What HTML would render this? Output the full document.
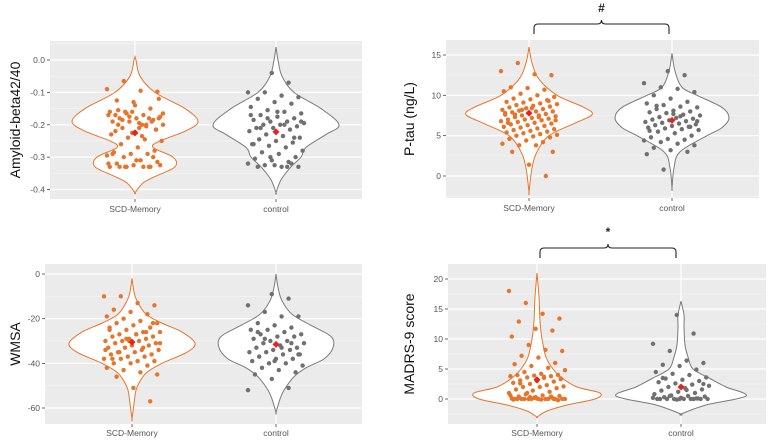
<!DOCTYPE html>
<html><head><meta charset="utf-8"><style>
html,body{margin:0;padding:0;background:#fff;}
svg{display:block;font-family:"Liberation Sans",sans-serif;}
</style></head><body>
<svg id="chart" width="772" height="442" viewBox="0 0 772 442"></svg>
<script>
// ---------- data ----------
const categories = ["SCD-Memory", "control"];
// Panel A: Amyloid-beta42/40
const amyTicks = [0.0, -0.1, -0.2, -0.3, -0.4];
const amyTickLabels = ["0.0", "-0.1", "-0.2", "-0.3", "-0.4"];
const amyScdViolinY = [0.01, 0.0, -0.05, -0.1, -0.15, -0.19, -0.22, -0.25, -0.27, -0.3, -0.33, -0.36, -0.38, -0.41];
const amyScdViolinW = [0, 1, 5, 20, 50, 63, 50, 25, 18, 38, 40, 20, 8, 0];
const amyCtrlViolinY = [0.04, 0.0, -0.05, -0.1, -0.15, -0.2, -0.23, -0.27, -0.3, -0.33, -0.37, -0.41];
const amyCtrlViolinW = [0, 2, 6, 18, 45, 63, 50, 30, 25, 15, 5, 0];
const amyScdPts = [-0.09,-0.065,-0.095,-0.098,-0.125,-0.13,-0.15,-0.16,-0.165,-0.17,-0.175,-0.18,-0.18,-0.185,-0.19,-0.19,-0.2,-0.2,-0.21,-0.21,-0.215,-0.22,-0.225,-0.18,-0.17,-0.16,-0.2,-0.12,-0.155,-0.14,-0.19,-0.23,-0.24,-0.245,-0.25,-0.26,-0.27,-0.28,-0.285,-0.29,-0.29,-0.295,-0.3,-0.31,-0.315,-0.32,-0.325,-0.33,-0.33,-0.33,-0.33,-0.325,-0.33,-0.31,-0.3,-0.29,-0.175,-0.205,-0.165,-0.185,-0.195,-0.215,-0.17,-0.16,-0.33,-0.32,-0.33,-0.235,-0.18,-0.2];
const amyCtrlPts = [-0.04,-0.07,-0.1,-0.1,-0.11,-0.115,-0.12,-0.13,-0.135,-0.145,-0.155,-0.16,-0.165,-0.17,-0.175,-0.18,-0.185,-0.19,-0.19,-0.195,-0.2,-0.2,-0.205,-0.21,-0.21,-0.215,-0.22,-0.23,-0.235,-0.24,-0.245,-0.25,-0.255,-0.26,-0.265,-0.27,-0.28,-0.285,-0.29,-0.3,-0.305,-0.31,-0.315,-0.32,-0.325,-0.33,-0.33,-0.33,-0.325,-0.32,-0.17,-0.18,-0.2,-0.19,-0.21,-0.16,-0.24,-0.26,-0.3,-0.33];
const amyMeans = [-0.225, -0.222];
// Panel B: P-tau
const ptTicks = [0, 5, 10, 15];
const ptTickLabels = ["0", "5", "10", "15"];
const ptScdViolinY = [16, 14, 12, 10, 8.5, 7.6, 6.5, 5, 3, 1, -2];
const ptScdViolinW = [0, 3, 10, 28, 55, 63, 45, 20, 8, 3, 0];
const ptCtrlViolinY = [15.2, 13, 11, 10, 8.5, 7.2, 6, 5, 3, 1, -1.5];
const ptCtrlViolinW = [0, 3, 10, 25, 50, 57, 50, 35, 8, 2, 0];
const ptScdPts = [13,14,12.6,12.5,11,10.9,10.7,10.5,10.2,10,9.8,9.6,9.5,9.4,9.2,9.1,9,8.9,8.8,8.7,8.6,8.5,8.4,8.3,8.2,8.1,8,8,7.9,7.8,7.7,7.6,7.5,7.5,7.4,7.3,7.2,7.1,7,7,6.9,6.8,6.7,6.6,6.5,6.4,6.3,6.2,6.1,6,5.9,5.8,5.7,5.6,5.5,5.4,5.3,5.2,5.1,5,4.9,4.8,4.6,4.4,4.2,4,3.8,3.8,3,3,1.4,0,7.8,8.2,7.3,6.9,7.6,8.4,9.3,6.6];
const ptCtrlPts = [13,12.5,11.5,11,10.8,10.4,10,9.6,9.2,9,8.8,8.6,8.5,8.3,8.1,8,7.9,7.8,7.6,7.5,7.3,7.2,7.1,7,6.9,6.8,6.7,6.6,6.5,6.4,6.3,6.2,6.1,6,5.9,5.8,5.7,5.5,5.3,5,4.8,4.6,4.5,4.4,4.2,4,3.8,3.5,3.2,3,2.7,0.8,7.4,6.8,8.7,7.7,6.1,5.6];
const ptMeans = [7.8, 6.9];
// Panel C: WMSA
const wmTicks = [0, -20, -40, -60];
const wmTickLabels = ["0", "-20", "-40", "-60"];
const wmScdViolinY = [-2, -8, -12, -18, -22, -26, -31, -35, -40, -44, -48, -52, -58, -65];
const wmScdViolinW = [0, 2, 5, 14, 30, 50, 63, 55, 30, 15, 8, 4, 2, 0];
const wmCtrlViolinY = [0, -6, -12, -18, -23, -28, -33, -38, -42, -46, -52, -56, -62];
const wmCtrlViolinW = [0, 2, 6, 16, 35, 55, 57, 48, 30, 18, 8, 4, 0];
const wmScdPts = [-10,-10,-13,-14,-16,-17,-18,-19,-20,-21,-22,-22,-23,-24,-25,-25,-26,-26,-27,-27,-28,-28,-29,-29,-30,-30,-30,-31,-31,-32,-32,-33,-33,-34,-34,-35,-35,-36,-36,-37,-37,-38,-38,-39,-39,-40,-40,-41,-42,-43,-44,-45,-46,-51,-57,-24,-29,-33,-31,-35,-27,-22,-38,-30,-26,-34];
const wmCtrlPts = [-9,-11,-14,-17,-19,-19,-22,-23,-24,-25,-25,-26,-27,-27,-28,-28,-29,-30,-30,-31,-31,-32,-33,-33,-34,-34,-35,-35,-36,-36,-37,-38,-38,-39,-40,-40,-41,-42,-43,-44,-45,-47,-51,-52,-29,-33,-36,-26,-39,-31];
const wmMeans = [-30.5, -31.5];
// Panel D: MADRS-9
const mdTicks = [0, 5, 10, 15, 20];
const mdTickLabels = ["0", "5", "10", "15", "20"];
const mdScdViolinY = [21, 17, 13, 10, 7, 5, 3.5, 2, 1, 0, -1, -2, -3];
const mdScdViolinW = [0, 2, 3, 5, 9, 16, 25, 40, 63, 58, 30, 10, 0];
const mdCtrlViolinY = [16.3, 14, 12, 9, 7, 5, 3.5, 2, 0.5, -1, -2.5];
const mdCtrlViolinW = [0, 3, 3, 4, 7, 12, 28, 45, 65, 25, 0];
const mdScdPts = [18,16,14.2,13.4,12.9,11.7,11.4,10.4,9,8.2,8,7.2,6.9,6,5.8,5.5,5.2,4.8,4.5,4.2,4,4,3.9,3.8,3.8,3.6,3.5,3.3,3.1,3,2.9,2.7,2.5,2.3,2.1,2,2,1.8,1.6,1.4,1.2,1,0.8,0.6,0.5,0.4,0.3,0.2,0.1,0,0,0,0,0,0,0,0,0,0,0,-0.1,-0.2,0,0.2,0.4,0.6,1,3.7,3.4,2.6,0.1,0,-0.1,0.3];
const mdCtrlPts = [14,10.9,9.2,8,6.4,6,5.7,5.5,4.9,4.5,4.2,4,3.6,3.4,3.2,3,2.8,2.6,2.4,2.2,2,1.8,1.6,1.4,1.2,1,0.8,0.6,0.5,0.4,0.3,0.2,0.1,0,0,0,0,0,0,0,0,-0.1,0,0.2,0.5,1.5,2.5,3.5,0,0.1];
const mdMeans = [3.2, 2.0];

const panels = [
  {name:"amyloid", title:"Amyloid-beta42/40", px0:50, px1:362, py0:41, py1:199, v0:0, y0:60, v1:-0.4, y1:189.5, cx:[135,276], ticks:amyTicks, tickLabels:amyTickLabels,
   vy:[amyScdViolinY, amyCtrlViolinY], vw:[amyScdViolinW, amyCtrlViolinW], pts:[amyScdPts, amyCtrlPts], means:amyMeans, titleX:15, labelY:212},
  {name:"ptau", title:"P-tau (ng/L)", px0:446, px1:759, py0:40, py1:198, v0:0, y0:176, v1:15, y1:55, cx:[529,672], ticks:ptTicks, tickLabels:ptTickLabels,
   vy:[ptScdViolinY, ptCtrlViolinY], vw:[ptScdViolinW, ptCtrlViolinW], pts:[ptScdPts, ptCtrlPts], means:ptMeans, titleX:409, labelY:211, sig:"#", bx0:534, bx1:669, by:24},
  {name:"wmsa", title:"WMSA", px0:45, px1:362, py0:264, py1:424, v0:0, y0:274, v1:-60, y1:408, cx:[132,276], ticks:wmTicks, tickLabels:wmTickLabels,
   vy:[wmScdViolinY, wmCtrlViolinY], vw:[wmScdViolinW, wmCtrlViolinW], pts:[wmScdPts, wmCtrlPts], means:wmMeans, titleX:15, labelY:436},
  {name:"madrs", title:"MADRS-9 score", px0:448, px1:766, py0:264, py1:424, v0:0, y0:399, v1:20, y1:279, cx:[537,681], ticks:mdTicks, tickLabels:mdTickLabels,
   vy:[mdScdViolinY, mdCtrlViolinY], vw:[mdScdViolinW, mdCtrlViolinW], pts:[mdScdPts, mdCtrlPts], means:mdMeans, titleX:409, labelY:436, sig:"*", bx0:540, bx1:676, by:248}
];

const NS = "http://www.w3.org/2000/svg";
const svg = document.getElementById("chart");
const colors = ["#e8742a", "#707070"];
const lineColors = ["#e8742a", "#7a7a7a"];
function mk(tag, attrs, parent){ const e=document.createElementNS(NS,tag); for(const k in attrs) e.setAttribute(k,attrs[k]); (parent||svg).appendChild(e); return e; }

panels.forEach(p=>{
  const g = mk("g",{});
  
  
  const sy = v => p.y0 + (v - p.v0) * (p.y1 - p.y0) / (p.v1 - p.v0);
  const bg = mk("rect",{x:p.px0,y:p.py0,width:p.px1-p.px0,height:p.py1-p.py0,fill:"#ebebeb"},g);
  
  
  const step = p.ticks[1]-p.ticks[0];
  const tmin=Math.min(...p.ticks), tmax=Math.max(...p.ticks), s=Math.abs(step);
  for(let v=tmin - s/2; v<=tmax + s/2 + 1e-9; v+=s){ const y=sy(v); if(y>p.py0 && y<p.py1){ const l=mk("line",{x1:p.px0,x2:p.px1,y1:y,y2:y,stroke:"#f7f7f7","stroke-width":0.6},g);   } }
  p.ticks.forEach((t,i)=>{
    const y=sy(t);
    const l=mk("line",{x1:p.px0,x2:p.px1,y1:y,y2:y,stroke:"#fff","stroke-width":1.2},g);
    
    
    mk("line",{x1:p.px0-3,x2:p.px0,y1:y,y2:y,stroke:"#444","stroke-width":0.8},g);
    const tx=mk("text",{x:p.px0-5,y:y+3,"text-anchor":"end","font-size":8.5,fill:"#555"},g);
    tx.textContent=p.tickLabels[i];
    
    
  });
  p.cx.forEach((cx,ci)=>{
    const l=mk("line",{x1:cx,x2:cx,y1:p.py0,y2:p.py1,stroke:"#fff","stroke-width":1.2},g);
    
    
    mk("line",{x1:cx,x2:cx,y1:p.py1,y2:p.py1+3,stroke:"#444","stroke-width":0.8},g);
    const tx=mk("text",{x:cx,y:p.labelY,"text-anchor":"middle","font-size":8.5,fill:"#555"},g);
    tx.textContent=categories[ci];
    
    
  });
  p.cx.forEach((cx,ci)=>{
    const ys=p.vy[ci], ws=p.vw[ci];
    const R=ys.map((v,i)=>[cx+ws[i], sy(v)]);
    const L=ys.map((v,i)=>[cx-ws[i], sy(v)]).reverse();
    const pts=R.concat(L);
    let d="M"+pts[0][0]+","+pts[0][1];
    for(let i=0;i<pts.length-1;i++){
      const p0=pts[Math.max(0,i-1)],p1=pts[i],p2=pts[i+1],p3=pts[Math.min(pts.length-1,i+2)];
      const c1=[p1[0]+(p2[0]-p0[0])/6,p1[1]+(p2[1]-p0[1])/6];
      const c2=[p2[0]-(p3[0]-p1[0])/6,p2[1]-(p3[1]-p1[1])/6];
      d+=" C"+c1[0]+","+c1[1]+" "+c2[0]+","+c2[1]+" "+p2[0]+","+p2[1];
    }
    d+="Z";
    const v=mk("path",{d:d,fill:"#fff",stroke:lineColors[ci],"stroke-width":1},g);
    
    
    p.pts[ci].forEach((val,i)=>{
      const jx=(((i*53+ci*17)%41)-20)/20*28;
      const c=mk("circle",{cx:cx+jx,cy:sy(val),r:2.2,fill:colors[ci]},g);
      
      
    });
    const my=sy(p.means[ci]);
    const m=mk("path",{d:`M${cx} ${my-3.5} L${cx+3.5} ${my} L${cx} ${my+3.5} L${cx-3.5} ${my}Z`,fill:"#e8211b"},g);
    
    
  });
  const cy=(p.py0+p.py1)/2;
  const t=mk("text",{x:p.titleX,y:cy,"text-anchor":"middle","font-size":14,fill:"#111",transform:`rotate(-90 ${p.titleX} ${cy})`,"dominant-baseline":"central"},g);
  t.textContent=p.title;
  
  
  if(p.sig){
    const mid=(p.bx0+p.bx1)/2, by=p.by;
    const b=mk("path",{d:`M${p.bx0} ${by+10} L${p.bx0} ${by+4} Q${p.bx0} ${by} ${p.bx0+4} ${by} L${mid-4} ${by} Q${mid} ${by} ${mid} ${by-4} Q${mid} ${by} ${mid+4} ${by} L${p.bx1-4} ${by} Q${p.bx1} ${by} ${p.bx1} ${by+4} L${p.bx1} ${by+10}`,fill:"none",stroke:"#222","stroke-width":1.1},g);
    
    
    const st=mk("text",{x:mid,y:by-12,"text-anchor":"middle","font-size":12,"font-weight":"bold",fill:"#222"},g);
    st.textContent=p.sig;
    
    
  }
});
</script>
</body></html>
